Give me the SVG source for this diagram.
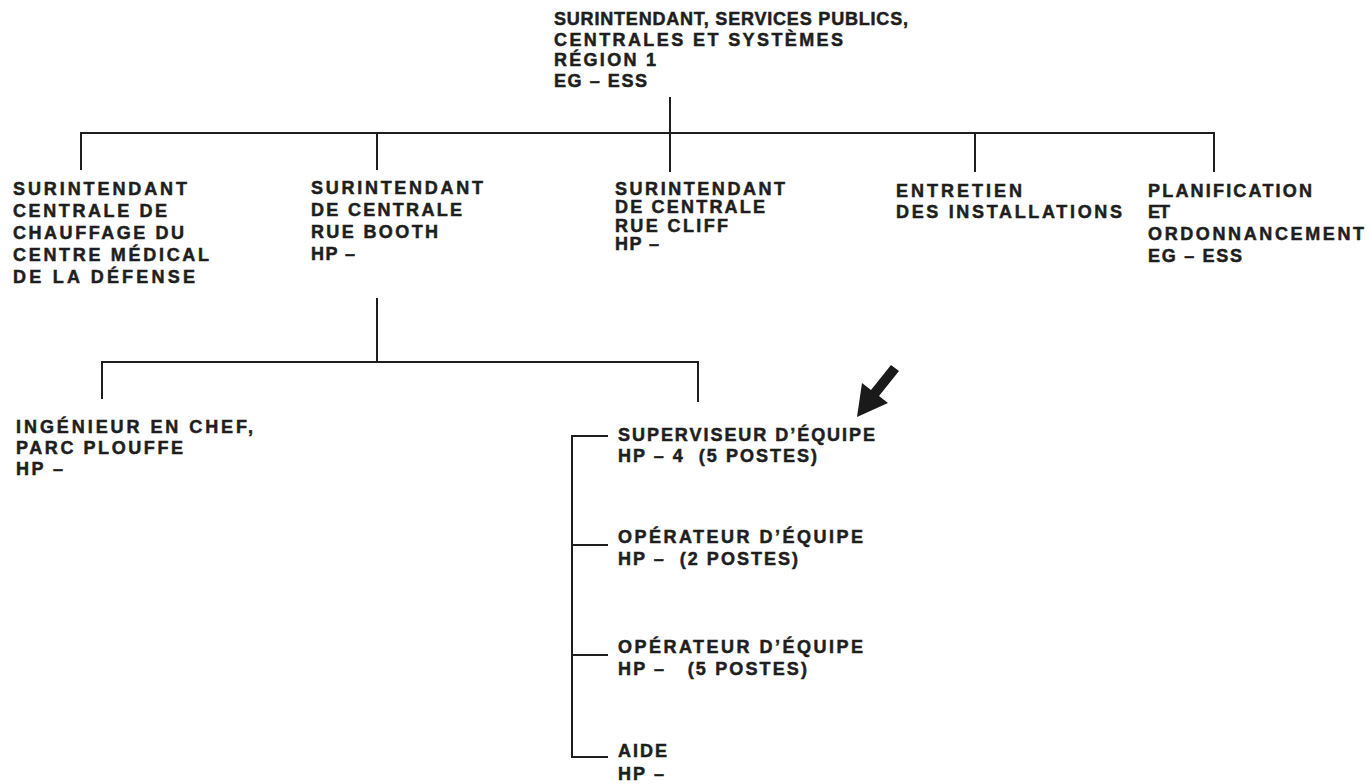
<svg xmlns="http://www.w3.org/2000/svg" width="1370" height="784" viewBox="0 0 1370 784">
<style>
text{font-family:"Liberation Sans",Arial,sans-serif;font-weight:bold;font-size:18px;fill:#1e1e1e;stroke:#1e1e1e;stroke-width:0.5}
.c{stroke:#1e1e1e;stroke-width:2;fill:none}
</style>
<rect width="1370" height="784" fill="#ffffff"/>
<g id="connectors" class="c">
<line x1="670" y1="97" x2="670" y2="133"/>
<line x1="80" y1="133" x2="1215" y2="133"/>
<line x1="81" y1="133" x2="81" y2="170"/>
<line x1="377" y1="133" x2="377" y2="170"/>
<line x1="670" y1="133" x2="670" y2="172"/>
<line x1="975" y1="133" x2="975" y2="172"/>
<line x1="1214" y1="133" x2="1214" y2="172"/>
<line x1="377" y1="298" x2="377" y2="362"/>
<line x1="101" y1="362" x2="699" y2="362"/>
<line x1="102" y1="362" x2="102" y2="399"/>
<line x1="698" y1="362" x2="698" y2="402"/>
<polyline points="608,436 572,436 572,757 608,757"/>
<line x1="572" y1="545" x2="608" y2="545"/>
<line x1="572" y1="655" x2="608" y2="655"/>
</g>
<g id="arrow">
<polygon points="857,417 862,383 871,390 891,365 899,371 879,396 888,403" fill="#1a1a1a"/>
</g>
<g id="n-top">
<text x="554" y="25" textLength="354" lengthAdjust="spacing">SURINTENDANT, SERVICES PUBLICS,</text>
<text x="554" y="46" textLength="289" lengthAdjust="spacing">CENTRALES ET SYSTÈMES</text>
<text x="554" y="66" textLength="102" lengthAdjust="spacing">RÉGION 1</text>
<text x="554" y="87" textLength="93" lengthAdjust="spacing">EG – ESS</text>
</g>
<g id="n-medical">
<text x="13" y="195" textLength="174" lengthAdjust="spacing">SURINTENDANT</text>
<text x="13" y="217" textLength="154" lengthAdjust="spacing">CENTRALE DE</text>
<text x="13" y="239" textLength="171" lengthAdjust="spacing">CHAUFFAGE DU</text>
<text x="13" y="261" textLength="196" lengthAdjust="spacing">CENTRE MÉDICAL</text>
<text x="13" y="283" textLength="182" lengthAdjust="spacing">DE LA DÉFENSE</text>
</g>
<g id="n-booth">
<text x="311" y="194" textLength="172" lengthAdjust="spacing">SURINTENDANT</text>
<text x="311" y="216" textLength="151" lengthAdjust="spacing">DE CENTRALE</text>
<text x="311" y="238" textLength="127" lengthAdjust="spacing">RUE BOOTH</text>
<text x="311" y="260" textLength="44" lengthAdjust="spacing">HP –</text>
</g>
<g id="n-cliff">
<text x="615" y="195" textLength="170" lengthAdjust="spacing">SURINTENDANT</text>
<text x="615" y="213" textLength="150" lengthAdjust="spacing">DE CENTRALE</text>
<text x="615" y="232" textLength="113" lengthAdjust="spacing">RUE CLIFF</text>
<text x="615" y="250" textLength="44" lengthAdjust="spacing">HP –</text>
</g>
<g id="n-entretien">
<text x="896" y="197" textLength="126" lengthAdjust="spacing">ENTRETIEN</text>
<text x="896" y="218" textLength="226" lengthAdjust="spacing">DES INSTALLATIONS</text>
</g>
<g id="n-planification">
<text x="1148" y="197" textLength="164" lengthAdjust="spacing">PLANIFICATION</text>
<text x="1148" y="218" textLength="22" lengthAdjust="spacing">ET</text>
<text x="1148" y="240" textLength="216" lengthAdjust="spacing">ORDONNANCEMENT</text>
<text x="1148" y="262" textLength="94" lengthAdjust="spacing">EG – ESS</text>
</g>
<g id="n-ingenieur">
<text x="16" y="433" textLength="237" lengthAdjust="spacing">INGÉNIEUR EN CHEF,</text>
<text x="16" y="454" textLength="167" lengthAdjust="spacing">PARC PLOUFFE</text>
<text x="16" y="475" textLength="47" lengthAdjust="spacing">HP –</text>
</g>
<g id="n-superviseur">
<text x="618" y="441" textLength="257" lengthAdjust="spacing">SUPERVISEUR D’ÉQUIPE</text>
<text x="618" y="462" textLength="199" lengthAdjust="spacing" xml:space="preserve">HP – 4  (5 POSTES)</text>
</g>
<g id="n-operateur1">
<text x="618" y="543" textLength="245" lengthAdjust="spacing">OPÉRATEUR D’ÉQUIPE</text>
<text x="618" y="565" textLength="180" lengthAdjust="spacing" xml:space="preserve">HP –  (2 POSTES)</text>
</g>
<g id="n-operateur2">
<text x="618" y="653" textLength="245" lengthAdjust="spacing">OPÉRATEUR D’ÉQUIPE</text>
<text x="618" y="675" textLength="189" lengthAdjust="spacing" xml:space="preserve">HP –   (5 POSTES)</text>
</g>
<g id="n-aide">
<text x="618" y="757" textLength="49" lengthAdjust="spacing">AIDE</text>
<text x="618" y="780" textLength="46" lengthAdjust="spacing">HP –</text>
</g>
</svg>
